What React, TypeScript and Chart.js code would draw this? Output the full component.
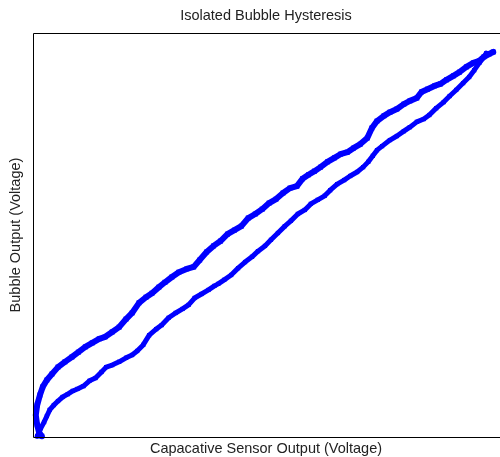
import React, { useEffect, useRef } from "react";
import { Chart, registerables } from "chart.js";

Chart.register(...registerables);

const TITLE = "Isolated Bubble Hysteresis";
const X_LABEL = "Capacative Sensor Output (Voltage)";
const Y_LABEL = "Bubble Output (Voltage)";

// Ascending branch (lower curve), normalized sensor output vs bubble output
const lowerX = [0.009, 0.013, 0.017, 0.024, 0.030, 0.036, 0.045, 0.054, 0.064, 0.075, 0.086, 0.096, 0.109, 0.122, 0.135, 0.148, 0.158, 0.171, 0.186, 0.201, 0.214, 0.225, 0.238, 0.251, 0.266, 0.278, 0.293, 0.308, 0.323, 0.336, 0.349, 0.364, 0.379, 0.392, 0.400, 0.413, 0.428, 0.443, 0.458, 0.473, 0.486, 0.501, 0.514, 0.529, 0.544, 0.557, 0.572, 0.587, 0.600, 0.615, 0.630, 0.642, 0.657, 0.672, 0.685, 0.700, 0.713, 0.724, 0.734, 0.743, 0.754, 0.771, 0.786, 0.801, 0.814, 0.829, 0.844, 0.856, 0.871, 0.887, 0.900, 0.914, 0.929, 0.942, 0.953, 0.964, 0.972, 0.979];
const lowerY = [0.002, 0.012, 0.022, 0.037, 0.052, 0.067, 0.079, 0.089, 0.099, 0.106, 0.114, 0.119, 0.126, 0.139, 0.146, 0.161, 0.173, 0.178, 0.186, 0.196, 0.203, 0.213, 0.228, 0.252, 0.267, 0.277, 0.295, 0.307, 0.317, 0.327, 0.344, 0.354, 0.364, 0.374, 0.379, 0.389, 0.401, 0.418, 0.433, 0.446, 0.460, 0.473, 0.488, 0.505, 0.522, 0.535, 0.552, 0.562, 0.577, 0.587, 0.597, 0.611, 0.626, 0.636, 0.646, 0.656, 0.668, 0.681, 0.696, 0.710, 0.720, 0.735, 0.745, 0.757, 0.767, 0.780, 0.787, 0.797, 0.814, 0.829, 0.844, 0.859, 0.876, 0.891, 0.908, 0.926, 0.938, 0.950];

// Descending branch (upper curve)
const upperX = [0.994, 0.985, 0.974, 0.964, 0.951, 0.936, 0.921, 0.908, 0.893, 0.880, 0.867, 0.852, 0.839, 0.829, 0.814, 0.801, 0.786, 0.771, 0.758, 0.743, 0.732, 0.722, 0.707, 0.692, 0.679, 0.664, 0.651, 0.636, 0.621, 0.608, 0.595, 0.582, 0.570, 0.555, 0.540, 0.525, 0.510, 0.495, 0.480, 0.465, 0.450, 0.435, 0.420, 0.405, 0.390, 0.375, 0.360, 0.347, 0.332, 0.315, 0.300, 0.285, 0.272, 0.257, 0.244, 0.229, 0.214, 0.201, 0.186, 0.171, 0.156, 0.143, 0.128, 0.113, 0.098, 0.084, 0.069, 0.054, 0.041, 0.030, 0.021, 0.015, 0.009, 0.006, 0.009, 0.013, 0.019];
const upperY = [0.953, 0.948, 0.941, 0.931, 0.926, 0.916, 0.903, 0.894, 0.884, 0.874, 0.869, 0.861, 0.854, 0.839, 0.832, 0.824, 0.812, 0.804, 0.795, 0.782, 0.765, 0.740, 0.725, 0.715, 0.705, 0.700, 0.691, 0.681, 0.668, 0.658, 0.649, 0.639, 0.621, 0.616, 0.604, 0.589, 0.579, 0.564, 0.552, 0.542, 0.522, 0.512, 0.502, 0.485, 0.473, 0.458, 0.438, 0.421, 0.416, 0.408, 0.396, 0.383, 0.371, 0.356, 0.346, 0.332, 0.307, 0.292, 0.272, 0.260, 0.248, 0.243, 0.233, 0.223, 0.210, 0.198, 0.186, 0.173, 0.156, 0.141, 0.124, 0.104, 0.079, 0.054, 0.030, 0.012, 0.002];

const BLUE = "#0000ff";
const FONT = "'Liberation Sans', Arial, sans-serif";

const framePlugin = {
  id: "frameAndLabels",
  afterDraw(chart: any) {
    const { ctx, chartArea } = chart;
    const { left, top, bottom } = chartArea;
    const w = chart.width;
    ctx.save();
    ctx.strokeStyle = "#000";
    ctx.lineWidth = 1;
    ctx.beginPath();
    ctx.moveTo(w, top + 0.5);
    ctx.lineTo(left + 0.5, top + 0.5);
    ctx.lineTo(left + 0.5, bottom + 0.5);
    ctx.lineTo(w, bottom + 0.5);
    ctx.stroke();
    ctx.fillStyle = "#222";
    ctx.font = `14.5px ${FONT}`;
    ctx.textAlign = "center";
    ctx.textBaseline = "middle";
    const cx = 266;
    ctx.fillText(TITLE, cx, 16);
    ctx.fillText(X_LABEL, cx, 449);
    ctx.translate(16, (top + bottom) / 2);
    ctx.rotate(-Math.PI / 2);
    ctx.fillText(Y_LABEL, 0, 0);
    ctx.restore();
  },
};

export default function App() {
  const ref = useRef<HTMLCanvasElement>(null);
  useEffect(() => {
    if (!ref.current) return;
    const lower = lowerX.map((x, i) => ({ x, y: lowerY[i] }));
    const upper = upperX.map((x, i) => ({ x, y: upperY[i] }));
    const ds = (data: any[], w: number, r: number) => ({
      data,
      showLine: true,
      borderColor: BLUE,
      backgroundColor: BLUE,
      borderWidth: w,
      pointStyle: "rect" as const,
      pointRadius: r,
      pointBorderWidth: 0,
      borderJoinStyle: "round" as const,
      borderCapStyle: "round" as const,
      clip: false as const,
    });
    const chart = new Chart(ref.current, {
      type: "scatter",
      data: { datasets: [ds(lower, 5, 3), ds(upper, 6, 3.5)] },
      plugins: [framePlugin],
      options: {
        animation: false,
        responsive: false,
        maintainAspectRatio: false,
        layout: { padding: { left: 33, top: 33, right: 0, bottom: 20 } },
        plugins: { legend: { display: false }, tooltip: { enabled: false }, title: { display: false } },
        scales: {
          x: { type: "linear", display: false, min: 0, max: 1 },
          y: { type: "linear", display: false, min: 0, max: 1 },
        },
      },
    });
    return () => chart.destroy();
  }, []);
  return (
    <div style={{ position: "fixed", left: 0, top: 0, width: 500, height: 457, background: "#fff" }}>
      <canvas ref={ref} width={500} height={457} style={{ width: 500, height: 457, display: "block" }} />
    </div>
  );
}
